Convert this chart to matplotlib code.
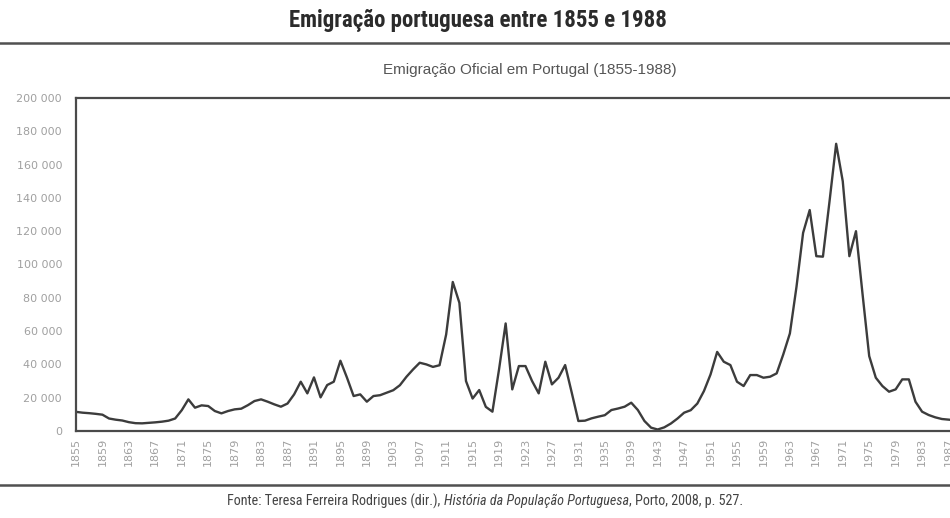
import matplotlib
matplotlib.use("Agg")
import matplotlib.pyplot as plt
from matplotlib import font_manager
from matplotlib.ticker import FuncFormatter

# anos 1855-1988 e emigração oficial
anos = list(range(1855, 1989))
emigrantes = [
    11500, 11000, 10700, 10300, 9800, 7500, 6800, 6300, 5300, 4700,      # 1855-1864
    4600, 4900, 5200, 5600, 6200, 7500, 12500, 19000, 14000, 15400,      # 1865-1874
    15000, 12000, 10600, 12000, 13000, 13400, 15500, 18000, 19000, 17600,  # 1875-1884
    16000, 14600, 16500, 22000, 29600, 22600, 32200, 20200, 27600, 29600,  # 1885-1894
    42200, 32000, 21000, 22000, 17600, 21000, 21500, 23000, 24500, 27500,  # 1895-1904
    32600, 37000, 41000, 40000, 38500, 39500, 58000, 89500, 77000, 30000,  # 1905-1914
    19500, 24600, 14500, 11600, 37000, 64600, 25000, 39000, 39000, 30000,  # 1915-1924
    22600, 41600, 28000, 32000, 39600, 23000, 6000, 6200, 7600, 8600,      # 1925-1934
    9500, 12600, 13500, 14600, 17000, 12600, 6000, 2000, 900, 2200,        # 1935-1944
    4500, 7500, 11000, 12500, 16500, 24000, 34000, 47500, 41600, 39600,    # 1945-1954
    29600, 27000, 33600, 33600, 32000, 32600, 34600, 46000, 58600, 86600,  # 1955-1964
    119000, 132700, 105000, 104700, 138000, 172500, 150000, 105000, 120000, 82000,  # 1965-1974
    45000, 32000, 27000, 23600, 25000, 31000, 31000, 17600, 11600, 9600,   # 1975-1984
    8200, 7200, 6800, 6500,                                                # 1985-1988
]
anos_rotulos = anos[::4]

titulo = "Emigração portuguesa entre 1855 e 1988"
subtitulo = "Emigração Oficial em Portugal (1855-1988)"
fonte_partes = [
    ("Fonte: Teresa Ferreira Rodrigues (dir.),", "normal"),
    ("História da População Portuguesa", "italic"),
    (", Porto, 2008, p. 527.", "normal"),
]

# procura uma fonte estreita instalada
instaladas = {(f.name, f.stretch) for f in font_manager.fontManager.ttflist}
nomes = {n for n, s in instaladas}
stretch = "normal"
if "Roboto Condensed" in nomes:
    estreita = ["Roboto Condensed", "DejaVu Sans"]
elif "Liberation Sans Narrow" in nomes:
    estreita = ["Liberation Sans Narrow", "DejaVu Sans"]
elif ("DejaVu Sans", "condensed") in instaladas:
    estreita = ["DejaVu Sans"]
    stretch = "condensed"
else:
    estreita = ["Roboto", "DejaVu Sans"]

W, H = 950, 518
fig = plt.figure(figsize=(W / 100, H / 100), dpi=100)
fig.patch.set_facecolor("white")

# eixo: esquerda 76 px, topo 98 px, base 431 px, 6.61 px por ano
left, top, bottom = 76, 98, 431
xmax = 1993
right = left + (xmax - 1855) * 6.61
ax = fig.add_axes([left / W, (H - bottom) / H, (right - left) / W, (bottom - top) / H])

ax.plot(anos, emigrantes, color="#3c3c3c", linewidth=1.7, solid_joinstyle="round")
ax.set_xlim(1855, xmax)
ax.set_ylim(0, 200000)
ax.set_yticks(range(0, 200001, 20000))
ax.yaxis.set_major_formatter(FuncFormatter(lambda v, p: f"{int(v):,}".replace(",", " ")))
ax.set_xticks(anos_rotulos)
ax.set_xticklabels([str(a) for a in anos_rotulos], rotation=90)
ax.tick_params(axis="both", length=0, colors="#a0a0a0")
ax.tick_params(axis="y", pad=10, labelsize=8)
ax.tick_params(axis="x", pad=5, labelsize=8)
for s in ["left", "top", "bottom"]:
    ax.spines[s].set_color("#4a4a4a")
    ax.spines[s].set_linewidth(1.6)
ax.spines["right"].set_visible(False)

# títulos
fig.text(478 / W, 1 - 21 / H, titulo, ha="center", va="center", fontsize=16.5,
         fontweight="bold", family=estreita, fontstretch=stretch, color="#2b2b2b")
fig.text(530 / W, 1 - 70 / H, subtitulo, ha="center", va="center",
         fontsize=11, family=["Liberation Sans", "DejaVu Sans"], color="#555555")

# linhas horizontais
fig.add_artist(plt.Line2D([0, 1], [1 - 43 / H, 1 - 43 / H], color="#505050", linewidth=1.8))
fig.add_artist(plt.Line2D([0, 1], [1 - 485 / H, 1 - 485 / H], color="#505050", linewidth=1.8))

# fonte com parte em itálico
fig.canvas.draw()
r = fig.canvas.get_renderer()
textos = []
for txt, estilo in fonte_partes:
    t = fig.text(0, 1 - 501 / H, txt, ha="left", va="center", fontsize=10.2,
                 family=estreita, fontstretch=stretch, style=estilo, color="#444444")
    textos.append(t)
larguras = [t.get_window_extent(r).width for t in textos]
espacos = [4, 0]
total = sum(larguras) + sum(espacos)
x = 485 - total / 2
for i, t in enumerate(textos):
    t.set_x(x / W)
    x += larguras[i] + (espacos[i] if i < len(espacos) else 0)

fig.savefig("out.png", dpi=100, facecolor="white")
